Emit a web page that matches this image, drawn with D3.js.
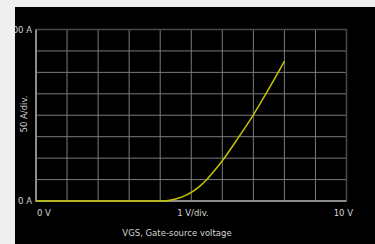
<!DOCTYPE html>
<html>
<head>
<meta charset="utf-8">
<script src="https://cdn.jsdelivr.net/npm/d3@7"></script>
<style>
  html, body { margin: 0; padding: 0; background: #eef0ef; }
  svg { display: block; }
  text { font-family: Verdana, 'DejaVu Sans', sans-serif; fill: #d4d4d4; font-size: 8.5px; }
</style>
</head>
<body>
<figure style="margin:0"></figure>
<script>
const width = 375
const height = 244

// gate voltage (V) vs drain current (A)
const vgs = [0, 1, 2, 3, 4, 4.2, 4.4, 4.6, 4.8, 5, 5.25, 5.5, 5.75, 6, 6.5, 7, 7.5, 8]
const idr = [0, 0, 0, 0, 0, 0.8, 3, 7, 12.5, 20, 33, 50, 71, 94, 146, 201, 262, 326]
const xTicks = [0, 1, 2, 3, 4, 5, 6, 7, 8, 9, 10]
const yTicks = [0, 50, 100, 150, 200, 250, 300, 350, 400]

const svg = d3.select('figure').append('svg')
  .attr('width', width)
  .attr('height', height)

// black panel
const panel = svg.append('svg')
  .attr('x', 15)
  .attr('y', 7)
  .attr('width', width - 15)
  .attr('height', height - 7)
  .style('overflow', 'hidden')

panel.append('rect')
  .attr('width', width - 15)
  .attr('height', height - 7)
  .attr('fill', '#000')

const g = panel.append('g').attr('transform', 'translate(-15,-7)')

const x = d3.scaleLinear().domain([0, 10]).range([36, 346.5])
const y = d3.scaleLinear().domain([0, 400]).range([201, 29.5])

// grid
g.selectAll('.vx')
  .data(xTicks.slice(1, -1))
  .join('line')
  .attr('x1', d => x(d)).attr('x2', d => x(d))
  .attr('y1', y(400)).attr('y2', y(0))
  .attr('stroke', '#7a7a7a')
  .attr('stroke-width', 1)

g.selectAll('.hy')
  .data(yTicks.slice(1, -1))
  .join('line')
  .attr('x1', x(0)).attr('x2', x(10))
  .attr('y1', d => y(d)).attr('y2', d => y(d))
  .attr('stroke', '#7a7a7a')
  .attr('stroke-width', 1)

// outer border: top / right darker
g.append('path')
  .attr('d', `M${x(0)},${y(400)}H${x(10)}V${y(0)}`)
  .attr('fill', 'none')
  .attr('stroke', '#4a4a4a')
  .attr('stroke-width', 1.5)

// axes: left and bottom lighter
g.append('path')
  .attr('d', `M${x(0)},${y(400)}V${y(0)}H${x(10)}`)
  .attr('fill', 'none')
  .attr('stroke', '#8c8c8c')
  .attr('stroke-width', 2)

// curve
const line = d3.line()
  .x((d, i) => x(vgs[i]))
  .y(d => y(d))
  .curve(d3.curveMonotoneX)

g.append('path')
  .datum(idr)
  .attr('d', line)
  .attr('fill', 'none')
  .attr('stroke', '#c4c400')
  .attr('stroke-width', 1.5)

// labels
g.append('text').attr('x', 32).attr('y', y(400) + 3).attr('text-anchor', 'end').text('400 A')
g.append('text').attr('x', 32).attr('y', y(0) + 3).attr('text-anchor', 'end').text('0 A')
g.append('text').attr('x', 37).attr('y', 216).text('0 V')
g.append('text').attr('x', 193).attr('y', 216).attr('text-anchor', 'middle').text('1 V/div.')
g.append('text').attr('x', 353).attr('y', 216).attr('text-anchor', 'end').text('10 V')
g.append('text').attr('x', 177).attr('y', 236).attr('text-anchor', 'middle').text('VGS, Gate-source voltage')
g.append('text')
  .attr('transform', 'translate(27,114) rotate(-90)')
  .attr('text-anchor', 'middle')
  .text('50 A/div.')
</script>
</body>
</html>
